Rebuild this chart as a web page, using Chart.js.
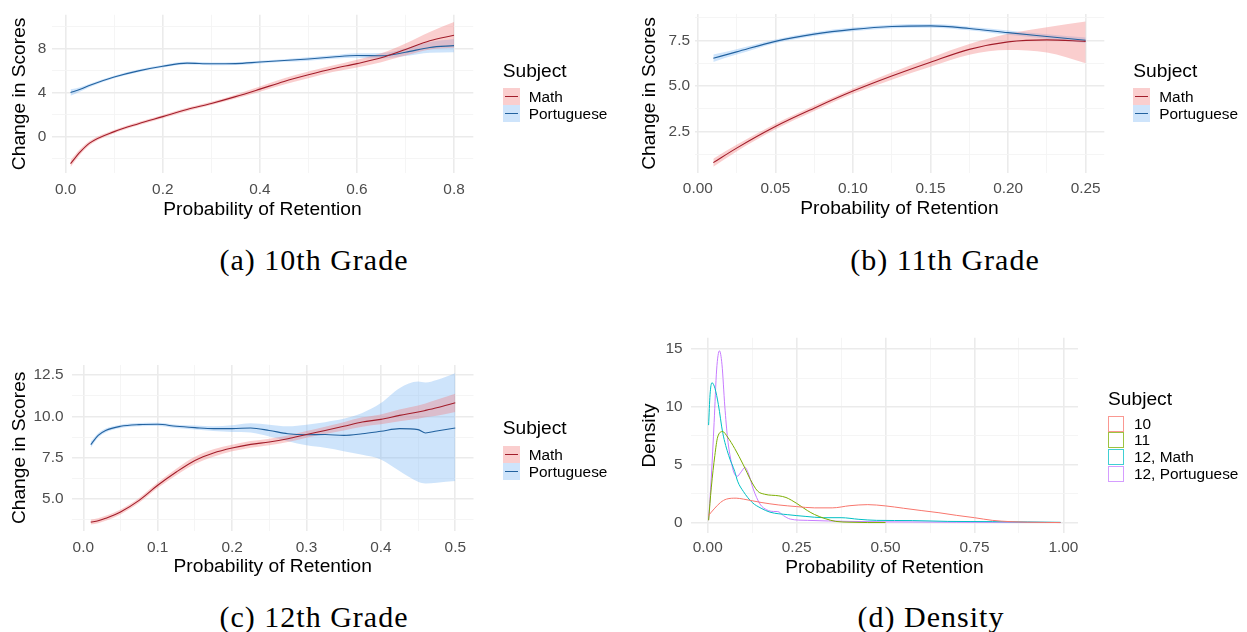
<!DOCTYPE html>
<html><head><meta charset="utf-8">
<script src="https://cdn.jsdelivr.net/npm/chart.js@4.4.1/dist/chart.umd.min.js"></script>
<style>
html,body{margin:0;padding:0;background:#fff;}
body{width:1247px;height:632px;position:relative;overflow:hidden;font-family:"Liberation Sans",Arial,sans-serif;}
canvas{position:absolute;z-index:1;}
.ltitle{position:absolute;z-index:2;font-size:19.2px;line-height:23px;white-space:nowrap;color:#000;transform:translateY(-50%);}
.lkey{position:absolute;z-index:2;width:17px;height:17px;box-sizing:border-box;}
.lline{position:absolute;left:2px;right:2px;top:7.8px;height:1.3px;}
.llab{position:absolute;z-index:2;font-size:15.4px;line-height:18px;white-space:nowrap;color:#000;transform:translateY(-50%);}
.cap{position:absolute;z-index:2;font-family:"Liberation Serif","Times New Roman",serif;font-size:30px;letter-spacing:1px;white-space:nowrap;transform:translate(-50%,-50%);color:#000;}
</style></head><body>
<canvas id="cA" width="620" height="225" style="left:0;top:0"></canvas>
<canvas id="cB" width="617" height="225" style="left:630px;top:0"></canvas>
<canvas id="cC" width="620" height="265" style="left:0;top:320px"></canvas>
<canvas id="cD" width="617" height="265" style="left:630px;top:320px"></canvas>
<div id="legends"></div>
<div class="cap" style="left:314px;top:260px">(a) 10th Grade</div>
<div class="cap" style="left:945px;top:260px">(b) 11th Grade</div>
<div class="cap" style="left:314px;top:617px">(c) 12th Grade</div>
<div class="cap" style="left:931px;top:617px">(d) Density</div>
<script>
// ---------- Panel (a) 10th grade ----------
const xA = [0.01,0.03,0.05,0.1,0.15,0.2,0.25,0.3,0.35,0.4,0.45,0.5,0.55,0.6,0.65,0.7,0.75,0.8];
const mathA = [-2.47,-1.4,-0.58,0.44,1.16,1.8,2.45,3.0,3.62,4.3,5.0,5.6,6.15,6.62,7.15,7.9,8.7,9.2];
const mathALo = [-2.77,-1.65,-0.78,0.29,1.01,1.65,2.3,2.85,3.45,4.07,4.72,5.3,5.85,6.27,6.75,7.35,7.9,8.05];
const mathAHi = [-2.17,-1.15,-0.38,0.59,1.31,1.95,2.6,3.15,3.8,4.53,5.28,5.9,6.45,6.97,7.55,8.45,9.5,10.4];
const portA = [3.99,4.28,4.65,5.4,5.96,6.38,6.66,6.6,6.62,6.76,6.9,7.04,7.22,7.36,7.33,7.65,8.09,8.25];
const portALo = [3.69,4.08,4.5,5.28,5.84,6.26,6.54,6.48,6.5,6.64,6.78,6.89,7.07,7.16,7.08,7.3,7.6,7.65];
const portAHi = [4.29,4.48,4.8,5.52,6.08,6.5,6.78,6.72,6.74,6.88,7.02,7.19,7.37,7.56,7.58,8.0,8.58,8.85];
const xTicksA = [0,0.2,0.4,0.6,0.8], xMinorA = [0.1,0.3,0.5,0.7];
const yTicksA = [0,4,8], yMinorA = [-2,2,6,10];

// ---------- Panel (b) 11th grade ----------
const xB = [0.01,0.025,0.05,0.075,0.1,0.125,0.15,0.175,0.2,0.225,0.25];
const mathB = [0.78,1.58,2.77,3.78,4.72,5.55,6.31,7.02,7.43,7.54,7.46];
const mathBLo = [0.56,1.4,2.62,3.63,4.57,5.35,6.06,6.72,6.98,6.84,6.26];
const mathBHi = [1.0,1.76,2.92,3.93,4.87,5.75,6.56,7.32,7.88,8.24,8.56];
const portB = [6.53,6.88,7.46,7.86,8.12,8.28,8.31,8.17,7.94,7.73,7.52];
const portBLo = [6.33,6.73,7.36,7.76,8.02,8.18,8.21,8.07,7.82,7.61,7.37];
const portBHi = [6.73,7.03,7.56,7.96,8.22,8.38,8.41,8.27,8.06,7.85,7.67];
const xTicksB = [0,0.05,0.1,0.15,0.2,0.25], xMinorB = [0.025,0.075,0.125,0.175,0.225];
const yTicksB = [2.5,5,7.5], yMinorB = [1.25,3.75,6.25,8.75];

// ---------- Panel (c) 12th grade ----------
const xC = [0.01,0.02,0.03,0.05,0.075,0.1,0.125,0.15,0.175,0.2,0.225,0.25,0.275,0.3,0.325,0.35,0.375,0.4,0.425,0.45,0.46,0.475,0.5];
const mathC = [3.62,3.7,3.85,4.23,4.93,5.84,6.64,7.34,7.79,8.09,8.31,8.45,8.65,8.91,9.15,9.4,9.66,9.82,10.06,10.26,10.36,10.52,10.82];
const mathCLo = [3.47,3.55,3.7,4.08,4.78,5.67,6.44,7.12,7.57,7.89,8.11,8.25,8.45,8.71,8.93,9.15,9.38,9.52,9.71,9.86,9.94,10.04,10.27];
const mathCHi = [3.77,3.85,4.0,4.38,5.08,6.01,6.84,7.56,8.01,8.29,8.51,8.65,8.85,9.11,9.37,9.65,9.94,10.12,10.41,10.66,10.78,11.0,11.37];
const portC = [8.29,8.85,9.15,9.4,9.5,9.52,9.4,9.32,9.26,9.26,9.3,9.15,8.95,8.89,8.91,8.85,8.95,9.1,9.26,9.2,9.0,9.12,9.3];
const portCLo = [8.1,8.72,9.03,9.3,9.4,9.42,9.3,9.2,9.12,9.06,9.02,8.78,8.5,8.25,8.1,7.9,7.68,7.4,6.7,6.05,5.95,6.0,6.1];
const portCHi = [8.48,8.98,9.27,9.5,9.6,9.62,9.5,9.45,9.4,9.46,9.58,9.5,9.4,9.5,9.65,9.85,10.2,10.8,11.7,12.1,12.05,12.2,12.6];
const xTicksC = [0,0.1,0.2,0.3,0.4,0.5], xMinorC = [0.05,0.15,0.25,0.35,0.45];
const yTicksC = [5,7.5,10,12.5], yMinorC = [3.75,6.25,8.75,11.25];

// ---------- Panel (d) density ----------
const densLabels = ['10','11','12, Math','12, Portuguese'];
const d10X = [0.0025,0.018,0.036,0.053,0.08,0.1,0.15,0.2,0.25,0.3,0.35,0.4,0.45,0.5,0.55,0.6,0.65,0.7,0.75,0.8,0.85,0.9,0.95,0.992];
const d10Y = [0.62,1.18,1.74,2.03,2.11,2.03,1.74,1.52,1.38,1.27,1.27,1.46,1.55,1.44,1.24,1.04,0.85,0.62,0.42,0.19,0.08,0.03,0.01,0.0];
const d11X = [0.0025,0.01,0.02,0.028,0.042,0.056,0.076,0.1,0.12,0.14,0.16,0.2,0.22,0.25,0.28,0.3,0.33,0.36,0.4,0.45,0.5];
const d11Y = [0.2,3.0,5.8,7.4,7.87,7.39,6.4,5.0,3.72,2.73,2.45,2.31,2.17,1.66,1.04,0.7,0.34,0.1,0.03,0.0,0.0];
const d12mX = [0.0025,0.0065,0.012,0.0205,0.03,0.042,0.059,0.076,0.084,0.1,0.125,0.15,0.175,0.225,0.276,0.325,0.375,0.425,0.475,0.575,0.675,0.8,0.9,0.992];
const d12mY = [8.43,11.05,12.1,11.6,10.2,7.8,5.8,4.42,3.58,2.7,1.74,1.24,0.9,0.68,0.53,0.42,0.42,0.28,0.19,0.17,0.1,0.08,0.05,0.02];
const d12pX = [0.0025,0.01,0.018,0.025,0.033,0.04,0.048,0.056,0.066,0.074,0.083,0.092,0.105,0.115,0.128,0.147,0.166,0.185,0.197,0.213,0.232,0.28,0.4,0.5,0.7,0.9,0.992];
const d12pY = [0.2,3.86,8.66,13.2,14.86,13.7,10.07,7.24,5.27,4.3,4.0,4.3,4.76,4.2,2.9,1.6,1.1,0.96,0.95,0.6,0.3,0.19,0.1,0.06,0.03,0.02,0.0];
const xTicksD = [0,0.25,0.5,0.75,1], xMinorD = [0.125,0.375,0.625,0.875];
const yTicksD = [0,5,10,15], yMinorD = [2.5,7.5,12.5];

const subjects = ['Math','Portuguese'];

// ---------- styles ----------
const FONT = '"Liberation Sans", Arial, sans-serif';
const MATH_LINE = '#A21D2A', PORT_LINE = '#22629F';
const MATH_FILL = 'rgba(240,120,120,0.36)', PORT_FILL = 'rgba(120,180,245,0.36)';
const DENS_COLORS = ['#F8766D','#7CAE00','#00BFC4','#C77CFF'];

function pts(xs, ys){ return xs.map((x,i)=>({x:x, y:ys[i]})); }
function isIn(v, arr){ return arr.some(a => Math.abs(a - v) < 1e-9); }

function lineDS(xs, ys, color, w){
  return {data: pts(xs,ys), borderColor: color, borderWidth: w, pointRadius: 0, fill: false,
          cubicInterpolationMode: 'monotone', order: 0};
}
function bandDS(xs, hi, lo, fillColor){
  return [
    {data: pts(xs,hi), borderWidth: 0, borderColor:'rgba(0,0,0,0)', pointRadius: 0, backgroundColor: fillColor,
     fill: '+1', cubicInterpolationMode: 'monotone', order: 1},
    {data: pts(xs,lo), borderWidth: 0, borderColor:'rgba(0,0,0,0)', pointRadius: 0, fill: false,
     cubicInterpolationMode: 'monotone', order: 1}
  ];
}

function makeChart(id, o){
  const grid = (major) => ({
    color: c => isIn(c.tick.value, major) ? '#EBEBEB' : '#F4F4F4',
    lineWidth: c => isIn(c.tick.value, major) ? 1.6 : 0.9,
    drawTicks: false
  });
  return new Chart(document.getElementById(id), {
    type: 'line',
    data: {datasets: o.datasets},
    options: {
      responsive: false, animation: false, events: [],
      layout: {padding: {top: o.padTop, right: o.padRight, left: 0, bottom: 0}},
      plugins: {legend: {display: false}, tooltip: {enabled: false}},
      scales: {
        x: {
          type: 'linear', position: 'bottom', min: o.xMin, max: o.xMax,
          afterBuildTicks: s => { s.ticks = o.xMajor.concat(o.xMinor).sort((a,b)=>a-b).map(v=>({value:v})); },
          afterFit: s => { s.height = o.xHeight; },
          ticks: {autoSkip: false, maxRotation: 0, minRotation: 0, padding: o.xTickPad, color: '#4D4D4D',
                  font: {family: FONT, size: 15.4},
                  callback: v => isIn(v, o.xMajor) ? v.toFixed(o.xDec) : ''},
          grid: grid(o.xMajor), border: {display: false},
          title: {display: true, text: 'Probability of Retention', color: '#000',
                  font: {family: FONT, size: 19.2}, padding: {top: 0, bottom: o.xTitlePad}}
        },
        y: {
          type: 'linear', position: 'left', min: o.yMin, max: o.yMax,
          afterBuildTicks: s => { s.ticks = o.yMajor.concat(o.yMinor).sort((a,b)=>a-b).map(v=>({value:v})); },
          afterFit: s => { s.width = o.yWidth; },
          ticks: {autoSkip: false, padding: o.yTickPad, color: '#4D4D4D',
                  font: {family: FONT, size: 15.4},
                  callback: v => isIn(v, o.yMajor) ? v.toFixed(o.yDec) : ''},
          grid: grid(o.yMajor), border: {display: false},
          title: {display: true, text: o.yTitle, color: '#000',
                  font: {family: FONT, size: 19.2}, padding: {top: o.yTitlePad, bottom: 0}}
        }
      }
    }
  });
}

makeChart('cA', {
  xMin: -0.0288, xMax: 0.8397, yMin: -3.32, yMax: 11.06,
  xMajor: xTicksA, xMinor: xMinorA, yMajor: yTicksA, yMinor: yMinorA, xDec: 1, yDec: 0,
  yTitle: 'Change in Scores', yWidth: 51.7, xHeight: 52, padTop: 8.3, padRight: 146.7,
  xTickPad: 7.8, yTickPad: 5.5, xTitlePad: 3.5, yTitlePad: 8,
  datasets: [lineDS(xA, mathA, MATH_LINE, 1.1), lineDS(xA, portA, PORT_LINE, 1.1)]
    .concat(bandDS(xA, mathAHi, mathALo, MATH_FILL)).concat(bandDS(xA, portAHi, portALo, PORT_FILL))
});
makeChart('cB', {
  xMin: -0.002, xMax: 0.262, yMin: 0.21, yMax: 8.97,
  xMajor: xTicksB, xMinor: xMinorB, yMajor: yTicksB, yMinor: yMinorB, xDec: 2, yDec: 1,
  yTitle: 'Change in Scores', yWidth: 64.7, xHeight: 52, padTop: 8.3, padRight: 142.7,
  xTickPad: 6.8, yTickPad: 4.7, xTitlePad: 4.3, yTitlePad: 7.7,
  datasets: [lineDS(xB, mathB, MATH_LINE, 1.1), lineDS(xB, portB, PORT_LINE, 1.1)]
    .concat(bandDS(xB, mathBHi, mathBLo, MATH_FILL)).concat(bandDS(xB, portBHi, portBLo, PORT_FILL))
});
makeChart('cC', {
  xMin: -0.0152, xMax: 0.5245, yMin: 3.1, yMax: 13.1,
  xMajor: xTicksC, xMinor: xMinorC, yMajor: yTicksC, yMinor: yMinorC, xDec: 1, yDec: 1,
  yTitle: 'Change in Scores', yWidth: 72, xHeight: 54.3, padTop: 45, padRight: 146.5,
  xTickPad: 8.1, yTickPad: 8.5, xTitlePad: 6.8, yTitlePad: 7.7,
  datasets: [lineDS(xC, mathC, MATH_LINE, 1.1), lineDS(xC, portC, PORT_LINE, 1.1)]
    .concat(bandDS(xC, mathCHi, mathCLo, MATH_FILL)).concat(bandDS(xC, portCHi, portCLo, PORT_FILL))
});
makeChart('cD', {
  xMin: -0.047, xMax: 1.041, yMin: -0.93, yMax: 15.99,
  xMajor: xTicksD, xMinor: xMinorD, yMajor: yTicksD, yMinor: yMinorD, xDec: 2, yDec: 0,
  yTitle: 'Density', yWidth: 61, xHeight: 51.7, padTop: 13.3, padRight: 169,
  xTickPad: 5.0, yTickPad: 8.5, xTitlePad: 6, yTitlePad: 7.7,
  datasets: [
    lineDS(d10X, d10Y, DENS_COLORS[0], 1.0),
    lineDS(d11X, d11Y, DENS_COLORS[1], 1.0),
    lineDS(d12mX, d12mY, DENS_COLORS[2], 1.0),
    lineDS(d12pX, d12pY, DENS_COLORS[3], 1.0)
  ]
});

// ---------- legends (HTML) ----------
const L = document.getElementById('legends');
function addDiv(cls, style, text){
  const d = document.createElement('div'); d.className = cls; d.style.cssText = style;
  if (text !== undefined) d.textContent = text; L.appendChild(d); return d;
}
function ribbonLegend(left, titleY, keyTop){
  addDiv('ltitle', `left:${left}px;top:${titleY}px`, 'Subject');
  const fills = [MATH_FILL, PORT_FILL], lines = [MATH_LINE, PORT_LINE];
  subjects.forEach((s,i)=>{
    const k = addDiv('lkey', `left:${left}px;top:${keyTop + i*17}px;background:${fills[i]}`);
    const ln = document.createElement('div'); ln.className='lline'; ln.style.background = lines[i]; k.appendChild(ln);
    addDiv('llab', `left:${left+26}px;top:${keyTop + i*17 + 8.5}px`, s);
  });
}
ribbonLegend(502.7, 70, 88.3);
ribbonLegend(1133.3, 70, 88.3);
ribbonLegend(502.7, 427.3, 446);
(function(){
  const left = 1108, keyTop = 415.5;
  addDiv('ltitle', `left:${left}px;top:398.3px`, 'Subject');
  densLabels.forEach((s,i)=>{
    addDiv('lkey', `left:${left}px;top:${keyTop + i*16.7}px;width:16px;height:16px;border:1.3px solid ${DENS_COLORS[i]};opacity:0.75;background:#fff`);
    addDiv('llab', `left:${left+26}px;top:${keyTop + i*16.7 + 8}px`, s);
  });
})();
</script>
</body></html>
